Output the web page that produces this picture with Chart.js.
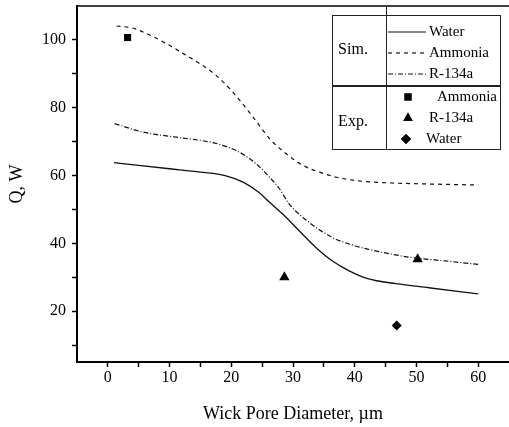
<!DOCTYPE html>
<html>
<head>
<meta charset="utf-8">
<script src="https://cdn.jsdelivr.net/npm/chart.js@4.4.1/dist/chart.umd.min.js"></script>
<style>
html, body { margin: 0; padding: 0; background: #fff; }
#wrap { width: 509px; height: 427px; }
</style>
</head>
<body>
<div id="wrap"><canvas id="poreChart"></canvas></div>
<script>
// simulation curves (wick pore diameter, um -> Q, W)
var waterSimX   = [1, 5, 10, 15, 19, 22, 24.5, 26.2, 28.3, 31, 33.7, 36.4, 39.1, 42.1, 46.7, 52, 60];
var waterSimY   = [63.8, 63.0, 62.0, 61.0, 60.0, 58.0, 55.0, 52.1, 48.7, 43.7, 38.8, 34.8, 31.9, 29.6, 28.1, 26.9, 25.1];
var ammoniaSimX = [1.4, 4, 6.7, 9.4, 12.1, 14.8, 17.5, 20.2, 23.5, 26.2, 28.9, 31.6, 34.3, 37, 41.3, 46, 52, 60];
var ammoniaSimY = [104.1, 103.5, 101.5, 99.0, 96.1, 93.1, 89.6, 84.7, 77.3, 70.9, 66.4, 63.0, 61.0, 59.5, 58.3, 57.8, 57.5, 57.2];
var r134aSimX   = [1.1, 5.7, 11.1, 16.5, 18.6, 21.3, 24, 26.2, 27.8, 29.4, 32.6, 36.4, 39.1, 42.1, 46, 49.3, 54.7, 60];
var r134aSimY   = [75.3, 72.8, 71.3, 69.9, 68.9, 66.9, 63.5, 59.5, 56.1, 51.6, 46.2, 41.7, 39.8, 38.3, 36.8, 35.8, 34.8, 33.8];

// experimental points
var ammoniaExpX = [3.2];
var ammoniaExpY = [100.7];
var r134aExpX   = [28.6, 50.2];
var r134aExpY   = [30.0, 35.3];
var waterExpX   = [46.8];
var waterExpY   = [15.8];

var xTickLabels = [0, 10, 20, 30, 40, 50, 60];
var yTickLabels = [20, 40, 60, 80, 100];

function pts(xs, ys) {
    return xs.map(function (x, i) { return { x: x, y: ys[i] }; });
}

Chart.defaults.font.family = "'Liberation Serif', 'Times New Roman', serif";
Chart.defaults.color = '#000';

var INK = '#111';
var DASH = [4, 4];
var DASHDOT = [5, 2, 1, 2];

// no extra room for hidden end labels: plot box is set by hand
function noPad(s) {
    s.paddingTop = 0;
    s.paddingBottom = 0;
    s.paddingLeft = 0;
    s.paddingRight = 0;
}

// top frame line + the table-like legend
var framePlugin = {
    id: 'frame',
    afterDraw: function (chart) {
        var ctx = chart.ctx;
        var a = chart.chartArea;
        ctx.save();
        ctx.strokeStyle = '#000';
        ctx.lineWidth = 1.5;
        ctx.beginPath();
        ctx.moveTo(a.left, a.top);
        ctx.lineTo(a.right, a.top);
        ctx.stroke();

        // legend box
        var L = 332, T = 15, R = 500, B = 149, midY = 86, midX = 386;
        ctx.lineWidth = 1;
        ctx.strokeStyle = '#222';
        ctx.strokeRect(L + 0.5, T + 0.5, R - L, B - T);
        ctx.beginPath();
        ctx.moveTo(midX + 0.5, a.top);
        ctx.lineTo(midX + 0.5, B);
        ctx.stroke();
        ctx.lineWidth = 2;
        ctx.beginPath();
        ctx.moveTo(L, midY);
        ctx.lineTo(R, midY);
        ctx.stroke();

        ctx.fillStyle = '#000';
        ctx.font = "16px 'Liberation Serif'";
        ctx.textBaseline = 'middle';
        ctx.textAlign = 'center';
        ctx.fillText('Sim.', 353, 50);
        ctx.fillText('Exp.', 353, 122);

        ctx.font = "15px 'Liberation Serif'";
        ctx.textAlign = 'left';
        var simRows = [['Water', [], 32], ['Ammonia', DASH, 53], ['R-134a', DASHDOT, 74]];
        ctx.strokeStyle = INK;
        ctx.lineWidth = 1.2;
        simRows.forEach(function (r) {
            ctx.setLineDash(r[1]);
            ctx.beginPath();
            ctx.moveTo(388, r[2]);
            ctx.lineTo(426, r[2]);
            ctx.stroke();
            ctx.fillText(r[0], 429, r[2]);
        });
        ctx.setLineDash([]);

        var expRows = [['Ammonia', 'rect', 5, 408, 437, 97],
                       ['R-134a', 'triangle', 5.5, 408, 429, 118],
                       ['Water', 'rectRot', 5, 406, 426, 139]];
        expRows.forEach(function (r) {
            ctx.fillStyle = '#000';
            Chart.helpers.drawPoint(ctx, { pointStyle: r[1], radius: r[2], borderWidth: 0 }, r[3], r[5]);
            ctx.fill();
            ctx.fillText(r[0], r[4], r[5]);
        });
        ctx.restore();
    }
};

new Chart(document.getElementById('poreChart'), {
    type: 'scatter',
    data: {
        datasets: [{
            label: 'Water (Sim.)',
            data: pts(waterSimX, waterSimY),
            showLine: true,
            borderColor: INK,
            borderWidth: 1.3,
            pointRadius: 0,
            cubicInterpolationMode: 'monotone'
        }, {
            label: 'Ammonia (Sim.)',
            data: pts(ammoniaSimX, ammoniaSimY),
            showLine: true,
            borderColor: INK,
            borderWidth: 1.2,
            borderDash: DASH,
            pointRadius: 0,
            cubicInterpolationMode: 'monotone'
        }, {
            label: 'R-134a (Sim.)',
            data: pts(r134aSimX, r134aSimY),
            showLine: true,
            borderColor: INK,
            borderWidth: 1.2,
            borderDash: DASHDOT,
            pointRadius: 0,
            cubicInterpolationMode: 'monotone'
        }, {
            label: 'Ammonia (Exp.)',
            data: pts(ammoniaExpX, ammoniaExpY),
            pointStyle: 'rect',
            pointRadius: 5,
            backgroundColor: '#000',
            borderWidth: 0
        }, {
            label: 'R-134a (Exp.)',
            data: pts(r134aExpX, r134aExpY),
            pointStyle: 'triangle',
            pointRadius: 6,
            backgroundColor: '#000',
            borderWidth: 0
        }, {
            label: 'Water (Exp.)',
            data: pts(waterExpX, waterExpY),
            pointStyle: 'rectRot',
            pointRadius: 5,
            backgroundColor: '#000',
            borderWidth: 0
        }]
    },
    options: {
        responsive: true,
        maintainAspectRatio: false,
        animation: false,
        layout: { autoPadding: false, padding: { top: 6, right: 0, left: 0, bottom: 0 } },
        plugins: {
            legend: { display: false },
            tooltip: { enabled: false }
        },
        scales: {
            x: {
                type: 'linear',
                min: -5,
                max: 65,
                afterFit: function (s) { s.height = 65; noPad(s); },
                afterBuildTicks: function (s) {
                    s.ticks = s.ticks.filter(function (t) { return t.value >= 0 && t.value <= 60; });
                },
                grid: { drawOnChartArea: false, tickLength: 5, tickColor: '#000', tickWidth: 1.5 },
                border: { color: '#000', width: 2 },
                ticks: {
                    stepSize: 5,
                    autoSkip: false,
                    maxRotation: 0,
                    padding: 1,
                    font: { size: 16 },
                    callback: function (value) {
                        return xTickLabels.indexOf(value) >= 0 ? String(value) : '';
                    }
                },
                title: {
                    display: true,
                    text: 'Wick Pore Diameter, \u00b5m',
                    font: { size: 18 },
                    padding: { top: 0, bottom: 2 }
                }
            },
            y: {
                type: 'linear',
                min: 5,
                max: 110,
                afterFit: function (s) { s.width = 77; noPad(s); },
                afterBuildTicks: function (s) {
                    s.ticks = s.ticks.filter(function (t) { return t.value >= 10 && t.value <= 100 && t.value % 10 === 0; });
                },
                grid: { drawOnChartArea: false, tickLength: 5, tickColor: '#000', tickWidth: 1.5 },
                border: { color: '#000', width: 2 },
                ticks: {
                    stepSize: 10,
                    autoSkip: false,
                    padding: 6,
                    font: { size: 16 },
                    callback: function (value) {
                        return yTickLabels.indexOf(value) >= 0 ? String(value) : '';
                    }
                },
                title: {
                    display: true,
                    text: 'Q, W',
                    font: { size: 18 },
                    padding: { top: 6, bottom: 0 }
                }
            }
        }
    },
    plugins: [framePlugin]
});
</script>
</body>
</html>
